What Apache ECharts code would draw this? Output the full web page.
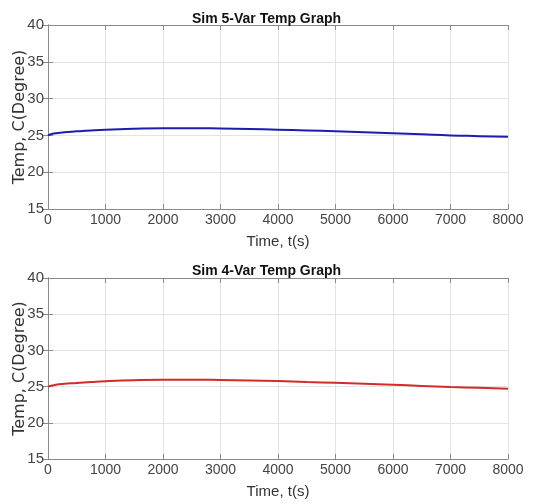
<!DOCTYPE html>
<html><head><meta charset="utf-8">
<script src="https://cdn.jsdelivr.net/npm/echarts@6/dist/echarts.min.js"></script>
<style>html,body{margin:0;padding:0;background:#fff}#c{width:533px;height:504px}</style>
</head><body><div id="c"></div>
<script>
var timeS = [0,50,100,250,500,750,1000,1500,2000,2500,3000,3500,4000,4500,5000,5500,6000,6500,7000,7500,8000];
var temp5Var = [25.0,25.15,25.25,25.4,25.55,25.68,25.78,25.9,25.97,25.98,25.93,25.86,25.78,25.67,25.56,25.44,25.3,25.15,25.0,24.9,24.8];
var temp4Var = [25.0,25.12,25.2,25.35,25.5,25.63,25.74,25.88,25.95,25.96,25.92,25.85,25.76,25.64,25.52,25.4,25.26,25.1,24.95,24.83,24.72];
var titles = ['Sim 5-Var Temp Graph','Sim 4-Var Temp Graph'];
var xName = 'Time, t(s)';
var yName = 'Temp, C(Degree)';

var grids = [
  {left:48, top:25, width:460, height:184, outerBoundsMode:'none', containLabel:false},
  {left:48, top:278, width:460, height:181, outerBoundsMode:'none', containLabel:false}
];
var font = 'Liberation Sans, Arial, sans-serif';
function xAx(i){
  return [{
    type:'value', gridIndex:i, min:0, max:8000, interval:1000,
    name:xName, nameLocation:'middle', nameGap:25, nameMoveOverlap:false,
    nameTextStyle:{color:'#333', fontSize:15, fontFamily:font},
    axisLine:{show:true, lineStyle:{color:'#8a8a8a'}},
    axisTick:{show:true, inside:true, length:5, lineStyle:{color:'#8a8a8a'}},
    axisLabel:{color:'#444', fontSize:14, fontFamily:font, margin:4, formatter:function(v){return String(v);}},
    splitLine:{show:true, lineStyle:{color:'#e4e4e4'}}
  },{
    type:'value', gridIndex:i, position:'top', min:0, max:8000, interval:1000,
    axisLine:{show:true, lineStyle:{color:'#8a8a8a'}},
    axisTick:{show:true, inside:true, length:5, lineStyle:{color:'#8a8a8a'}},
    axisLabel:{show:false}, splitLine:{show:false}
  }];
}
function yAx(i){
  return [{
    type:'value', gridIndex:i, min:15, max:40, interval:5,
    name:yName, nameLocation:'middle', nameGap:20, nameMoveOverlap:false,
    nameTextStyle:{color:'#333', fontSize:16, fontFamily:'DejaVu Sans, sans-serif'},
    axisLine:{show:true, lineStyle:{color:'#8a8a8a'}},
    axisTick:{show:true, inside:true, length:5, lineStyle:{color:'#8a8a8a'}},
    axisLabel:{color:'#444', fontSize:15, fontFamily:font, margin:4},
    splitLine:{show:true, lineStyle:{color:'#e4e4e4'}}
  },{
    type:'value', gridIndex:i, position:'right', min:15, max:40, interval:5,
    axisLine:{show:true, lineStyle:{color:'#8a8a8a'}},
    axisTick:{show:true, inside:true, length:5, lineStyle:{color:'#8a8a8a'}},
    axisLabel:{show:false}, splitLine:{show:false}
  }];
}
function pairs(ys){ return timeS.map(function(t,k){return [t, ys[k]];}); }

var chart = echarts.init(document.getElementById('c'), null, {renderer:'canvas'});
chart.setOption({
  backgroundColor:'#fff',
  animation:false,
  title:[
    {text:titles[0], left:'center', top:7, textStyle:{fontSize:14, fontWeight:'bold', color:'#111', fontFamily:font}},
    {text:titles[1], left:'center', top:259, textStyle:{fontSize:14, fontWeight:'bold', color:'#111', fontFamily:font}}
  ],
  grid:grids,
  xAxis:xAx(0).concat(xAx(1)),
  yAxis:yAx(0).concat(yAx(1)),
  series:[
    {type:'line', xAxisIndex:0, yAxisIndex:0, data:pairs(temp5Var), smooth:true, showSymbol:false,
     lineStyle:{color:'#1c1cae', width:2}},
    {type:'line', xAxisIndex:2, yAxisIndex:2, data:pairs(temp4Var), smooth:true, showSymbol:false,
     lineStyle:{color:'#d42a2a', width:2}}
  ]
});
</script></body></html>
